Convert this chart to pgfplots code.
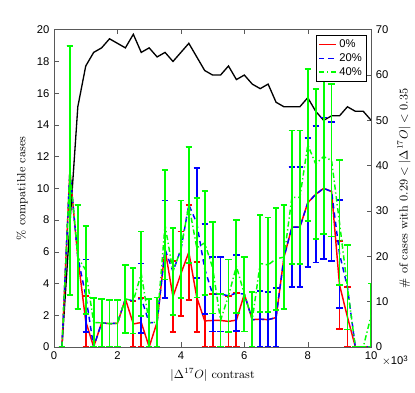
\documentclass[border=0pt]{standalone}
\usepackage{pgfplots}
\pgfplotsset{compat=1.18}
\usepackage{pgfplotstable}
\usepackage{fontspec}
\newfontfamily\hel{Liberation Sans}

% percentages of compatible cases (value, error) for 0%, 20%, 40%
\pgfplotstableread{
x    r     er    b     eb    g     eg
0.25 0     0     0     0     0     0
0.5  11.11 7.86  11.11 7.86  11.11 7.86
0.75 5.66  3.27  5.66  3.27  5.66  3.27
1.0  1.61  1.61  3.23  2.28  4.84  2.79
1.25 0     0     0     0     1.54  1.54
1.5  1.52  1.52  1.52  1.52  1.52  1.52
1.75 1.47  1.47  1.47  1.47  1.47  1.47
2.0  1.49  1.49  1.49  1.49  1.49  1.49
2.25 3.03  2.14  3.03  2.14  3.03  2.14
2.5  1.45  1.45  2.90  2.05  2.90  2.05
2.75 1.54  1.54  3.08  2.18  4.62  2.66
3.0  0     0     1.52  1.52  1.52  1.52
3.25 1.56  1.56  1.56  1.56  1.56  1.56
3.5  6.15  3.08  6.15  3.08  7.69  3.44
3.75 3.17  2.24  4.76  2.75  4.76  2.75
4.0  4.62  2.66  6.15  3.08  6.15  3.08
4.25 5.97  2.99  8.96  3.66  8.96  3.66
4.5  3.13  2.21  7.81  3.49  6.25  3.13
4.75 1.64  1.64  4.92  2.84  6.56  3.28
5.0  1.67  1.67  3.33  2.36  5.00  2.89
5.25 1.67  1.67  3.33  2.36  1.67  1.67
5.5  1.61  1.61  3.23  2.28  3.23  2.28
5.75 1.69  1.69  3.39  2.40  5.08  2.94
6.0  3.33  2.36  3.33  2.36  3.33  2.36
6.25 1.72  1.72  1.72  1.72  1.72  1.72
6.5  1.75  1.75  1.75  1.75  5.26  3.04
6.75 1.72  1.72  1.72  1.72  5.17  2.99
7.0  1.85  1.85  1.85  1.85  5.56  3.21
7.25 5.66  3.27  5.66  3.27  5.66  3.27
7.5  7.55  3.77  7.55  3.77  9.43  4.22
7.75 7.55  3.77  7.55  3.77  9.43  4.22
8.0  9.09  4.07  9.09  4.07  12.73 4.81
8.25 9.62  4.30  9.62  4.30  11.54 4.71
8.5  10.00 4.47  10.00 4.47  12.00 4.90
8.75 9.80  4.38  9.80  4.38  11.76 4.80
9.0  3.92  2.77  5.88  3.40  7.84  3.92
9.25 1.89  1.89  3.77  2.67  3.77  2.67
9.5  0     0     0     0     0     0
9.75 0     0     0     0     0     0
10.0 0     0     0     0     2.00  2.00
}\pct

% number of cases (right axis)
\pgfplotstableread{
x    n
0.25 0
0.5  27
0.75 53
1.0  62
1.25 65
1.5  66
1.75 68
2.0  67
2.25 66
2.5  69
2.75 65
3.0  66
3.25 64
3.5  65
3.75 63
4.0  65
4.25 67
4.5  64
4.75 61
5.0  60
5.25 60
5.5  62
5.75 59
6.0  60
6.25 58
6.5  57
6.75 58
7.0  54
7.25 53
7.5  53
7.75 53
8.0  55
8.25 52
8.5  50
8.75 51
9.0  51
9.25 53
9.5  52
9.75 52
10.0 50
}\cases

\begin{document}
\begin{tikzpicture}
\pgfplotsset{
  every axis/.append style={
    width=240pt, height=240pt, scale only axis,
    xmin=0, xmax=10,
    tick align=inside,
    axis line style={black!65, line width=0.4pt},
    major tick style={black!65, line width=0.4pt},
    major tick length=3.5pt,
    ticklabel style={font=\hel\fontsize{8.5}{10}\selectfont},
    /pgf/number format/assume math mode=true,
    label style={font=\fontsize{9}{11}\selectfont},
  },
  % error bar drawn in one colour, solid, with a short horizontal cap
  ebar/.style={error bars/.cd, y dir=both, y explicit,
    draw error bar/.code 2 args={%
      \draw[#1, solid, line width=1.4pt] ##1 -- ##2 ++(-2.4pt,0pt) -- ++(4.8pt,0pt);}},
}
\begin{axis}[
    axis x line=none, axis y line*=right,
    ymin=0, ymax=70, ytick={0,10,...,70},
    ylabel={\# of cases with $0.29<|\Delta^{17}O|<0.35$},
]
\addplot[black, line width=1.0pt] table[x=x, y=n] {\cases};
\end{axis}

\begin{axis}[
    name=main,
    ymin=0, ymax=20, ytick={0,2,...,20},
    xtick={0,2,...,10}, ytick pos=left,
    xlabel={$|\Delta^{17}O|$ contrast},
    ylabel={\% compatible cases},
    legend style={at={(0.986,0.984)}, anchor=north east,
      font=\hel\fontsize{8.5}{10}\selectfont, draw=black, line width=0.4pt,
      inner sep=1.5pt, row sep=-1pt},
    legend cell align=left,
    legend image code/.code={\draw[#1] (0cm,0cm) -- (0.45cm,0cm);},
]
\addplot[red, line width=1.1pt, ebar=red]
    table[x=x, y=r, y error=er] {\pct};
\addplot[blue, line width=1.1pt, dash pattern=on 4pt off 3pt, ebar=blue]
    table[x=x, y=b, y error=eb] {\pct};
\addplot[green, line width=1.1pt, dash pattern=on 4pt off 2pt on 1pt off 2pt, ebar=green]
    table[x=x, y=g, y error=eg] {\pct};
\legend{0\%, 20\%, 40\%}
\end{axis}
\node[anchor=west, font=\hel\fontsize{8.5}{10}\selectfont, inner sep=0pt]
    at ([xshift=8pt, yshift=-10.5pt]main.south east) {$\times$10\textsuperscript{3}};
\path[use as bounding box] (-40.875pt,-34.5pt) rectangle (270.375pt,262.5pt);
\end{tikzpicture}
\end{document}
